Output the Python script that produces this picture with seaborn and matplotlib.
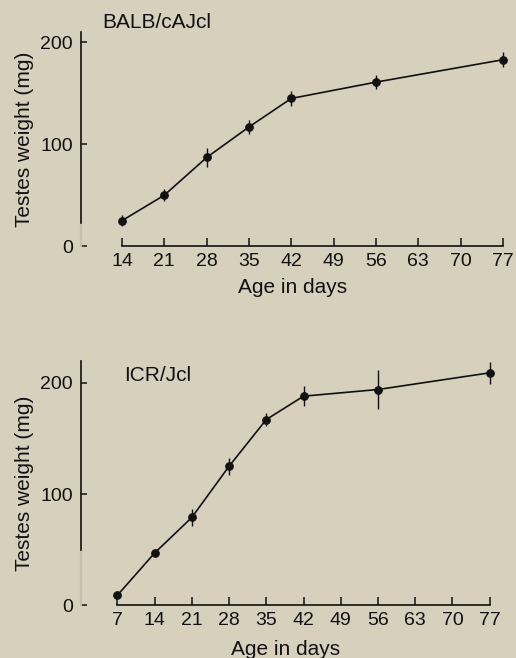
import matplotlib
matplotlib.use("Agg")
import matplotlib.pyplot as plt
import seaborn as sns
import pandas as pd

# Testes weight by age, two mouse strains (mean and error)
balb_age = [14, 21, 28, 35, 42, 56, 77]
balb_weight = [25, 50, 87, 117, 145, 161, 183]
balb_err = [5.5, 6, 9, 7, 7, 7, 7.5]

icr_age = [7, 14, 21, 28, 35, 42, 56, 77]
icr_weight = [9, 47, 79, 125, 167, 188, 194, 209]
icr_err = [2.5, 2.5, 7.5, 7.5, 6, 9, 17.5, 10]

x_ticks = [7, 14, 21, 28, 35, 42, 49, 56, 63, 70, 77]
y_ticks = [0, 100, 200]

BG = "#d6d0bd"
INK = "#111111"
FADE = "#c6c0ae"

sns.set_theme(style="ticks")
plt.rcParams["font.family"] = ["Liberation Sans", "DejaVu Sans"]

fig = plt.figure(figsize=(5.16, 6.58), dpi=100, facecolor=BG)
ax1 = fig.add_axes([0.157, 0.626, 0.820, 0.325])
ax2 = fig.add_axes([0.157, 0.080, 0.793, 0.372])


def draw_panel(ax, ages, weights, errs, xlim, ylim, xb_start, fade_top,
               name, name_xy, xlabelpad):
    ax.set_facecolor(BG)
    df = pd.DataFrame({"age": ages, "weight": weights})
    eb = ax.errorbar(ages, weights, yerr=errs, fmt="none", ecolor=INK,
                     elinewidth=1.0, capsize=0, zorder=2)
    for coll in eb.lines[2]:
        coll.set_clip_on(False)
    sns.lineplot(data=df, x="age", y="weight", ax=ax, color=INK,
                 linewidth=1.2, marker="o", markersize=5.5,
                 markeredgecolor=INK, markerfacecolor=INK, zorder=3,
                 clip_on=False)
    ax.set_xlim(*xlim)
    ax.set_ylim(*ylim)
    ticks = [t for t in x_ticks if t >= xb_start]
    ax.set_xticks(ticks)
    ax.set_xticklabels([str(t) for t in ticks])
    ax.set_yticks(y_ticks)
    ax.set_yticklabels([str(t) for t in y_ticks])
    for s in ("top", "right"):
        ax.spines[s].set_visible(False)
    ax.spines["bottom"].set_bounds(xb_start, 77)
    ax.spines["bottom"].set_color(INK)
    ax.spines["bottom"].set_linewidth(1.2)
    ax.spines["left"].set_bounds(fade_top, ylim[1])
    ax.spines["left"].set_color(INK)
    ax.spines["left"].set_linewidth(1.2)
    # faded lower section of the vertical axis
    ax.plot([xlim[0], xlim[0]], [0, fade_top], color=FADE, lw=1.6,
            clip_on=False, zorder=1)
    ax.tick_params(axis="x", direction="in", length=6, width=1.1,
                   colors=INK, labelsize=14, pad=5)
    ax.tick_params(axis="y", direction="in", length=4, width=1.1,
                   colors=INK, labelsize=14, pad=6)
    ax.get_yticklines()[0].set_color(FADE)
    ax.set_xlabel("Age in days", fontsize=15, color=INK, labelpad=xlabelpad)
    ax.set_ylabel("Testes weight (mg)", fontsize=15, color=INK, labelpad=4)
    ax.text(name_xy[0], name_xy[1], name, transform=ax.transAxes,
            fontsize=15, color=INK, ha="left", va="center")
    ax.grid(False)


draw_panel(ax1, balb_age, balb_weight, balb_err, (7.22, 77.2), (0, 210),
           14, 23, "BALB/cAJcl", (0.05, 1.045), 6)
draw_panel(ax2, icr_age, icr_weight, icr_err, (0.17, 77.1), (0, 220),
           7, 50, "ICR/Jcl", (0.105, 0.94), 8)

fig.savefig("out.png", dpi=100, facecolor=BG)
